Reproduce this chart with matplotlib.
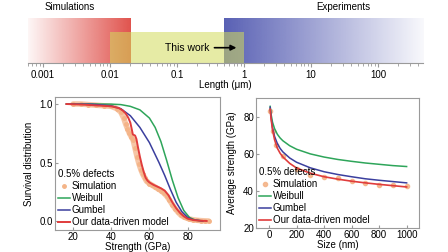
import numpy as np
import matplotlib
matplotlib.use('Agg')
import matplotlib.pyplot as plt
from matplotlib.colors import to_rgb

plt.rcParams['font.family'] = ['Liberation Sans', 'DejaVu Sans']
plt.rcParams['font.size'] = 7

# top panel: length scales (um)
len_lim = [0.0006, 470]
sim_range = [0.0006, 0.02]
exp_range = [0.5, 470]
work_range = [0.01, 1.0]
len_ticks = [0.001, 0.01, 0.1, 1, 10, 100]
len_labels = ['0.001', '0.01', '0.1', '1', '10', '100']

# bottom left: survival distribution vs strength (GPa)
sim_s = [20, 24, 28, 32, 36, 40, 43, 45, 46.5, 47.5, 48.5, 49.5, 50.5, 51.5, 52.5, 53.5,
         54.5, 55.5, 56.5, 57.5, 58.5, 60, 61.5, 63, 64.5, 66, 67.5, 69, 70.5, 72, 73.5,
         75, 76.5, 78, 79.5, 81, 83, 85, 87, 89, 91]
sim_p = [1.0, 1.0, 0.995, 0.99, 0.985, 0.98, 0.96, 0.93, 0.88, 0.83, 0.79, 0.75, 0.72,
         0.69, 0.62, 0.55, 0.49, 0.44, 0.40, 0.37, 0.34, 0.32, 0.305, 0.29, 0.275, 0.26,
         0.24, 0.215, 0.18, 0.14, 0.105, 0.075, 0.05, 0.035, 0.025, 0.017, 0.01, 0.006,
         0.003, 0.001, 0.0]
weib_s = [16.5, 30, 40, 45, 50, 55, 60, 63, 66, 69, 72, 75, 78, 81, 84, 88]
weib_p = [1.0, 1.0, 0.999, 0.995, 0.98, 0.95, 0.88, 0.80, 0.68, 0.52, 0.35, 0.20, 0.09,
          0.03, 0.008, 0.0]
gumb_s = [16.5, 30, 40, 45, 50, 55, 60, 65, 68, 71, 74, 77, 80, 83, 88]
gumb_p = [1.0, 0.998, 0.985, 0.96, 0.90, 0.80, 0.67, 0.50, 0.39, 0.27, 0.16, 0.08, 0.03,
          0.01, 0.0]
model_s = [16.5, 25, 35, 40, 44, 46, 47.5, 49, 50, 50.8, 51.3, 52.5, 53.2, 54, 55, 56, 57,
           58, 59, 60, 62, 64, 66, 68, 70, 72, 74, 76, 78, 80, 83, 86, 90]
model_p = [1.0, 0.995, 0.985, 0.98, 0.965, 0.945, 0.92, 0.88, 0.84, 0.78, 0.74, 0.73, 0.70,
           0.63, 0.55, 0.48, 0.42, 0.37, 0.345, 0.33, 0.31, 0.295, 0.28, 0.26, 0.22, 0.16,
           0.11, 0.07, 0.04, 0.02, 0.008, 0.003, 0.0]

# bottom right: average strength (GPa) vs size (nm)
size_sim = [10, 30, 50, 100, 200, 300, 400, 500, 600, 700, 800, 900, 1000]
str_sim = [83, 72, 64.7, 58.7, 51.7, 48.8, 47.5, 46.9, 45.1, 44.2, 43.3, 43.3, 42.4]
size_fit = [8, 15, 25, 40, 60, 80, 100, 150, 200, 300, 400, 500, 600, 700, 800, 900, 1000]
str_weib = [85.5, 81.1, 77.0, 73.5, 70.5, 68.5, 67.0, 64.3, 62.4, 59.9, 58.2, 56.9, 55.9,
            55.0, 54.3, 53.6, 53.1]
str_gumb = [85.0, 79.4, 73.9, 69.3, 65.5, 62.9, 61.0, 57.7, 55.4, 52.4, 50.3, 48.8, 47.6,
            46.5, 45.7, 45.0, 44.3]
str_model = [84.0, 78.5, 73.0, 67.5, 63.0, 60.3, 58.3, 54.8, 52.3, 49.5, 47.6, 46.3, 45.2,
             44.3, 43.5, 42.8, 42.1]

c_sim = '#f4b488'
c_weib = '#2ea55a'
c_gumb = '#3b3f9e'
c_model = '#e03c3c'
c_spine = '#9a9a9a'

fig = plt.figure(figsize=(4.48, 2.52), dpi=100)

# ---- top: length scale bar
axt = fig.add_axes([28 / 448, 1 - 63 / 252, 395 / 448, 45 / 252])
axt.set_xscale('log')
axt.set_autoscale_on(False)
axt.set_xlim(len_lim)
axt.set_ylim(0, 1)
lo, hi = np.log10(len_lim)


def frac(v):
    return (np.log10(v) - lo) / (hi - lo)


def gradient(rng, rgb, a0, a1, top):
    img = np.zeros((2, 256, 4))
    img[..., :3] = to_rgb(rgb)
    img[..., 3] = np.linspace(a0, a1, 256)
    axt.imshow(img, extent=[frac(rng[0]), frac(rng[1]), 0, top], transform=axt.transAxes,
               aspect='auto', interpolation='bilinear', zorder=1)


gradient(sim_range, '#e0504a', 0.05, 0.98, 1.0)
gradient(exp_range, '#5058b0', 0.95, 0.04, 0.98)
axt.axvspan(work_range[0], work_range[1], 0, 0.69, color='#d2db5b', alpha=0.55, lw=0, zorder=2)
axt.annotate('', xy=(0.85, 0.34), xytext=(0.33, 0.34),
             arrowprops=dict(arrowstyle='-|>', color='black', lw=1.2, mutation_scale=8), zorder=3)
axt.text(0.14, 0.34, 'This work', ha='center', va='center', fontsize=7.5, zorder=3)

for s in ['top', 'left', 'right']:
    axt.spines[s].set_visible(False)
axt.spines['bottom'].set_color(c_spine)
axt.set_yticks([])
axt.set_xticks(len_ticks)
axt.set_xticklabels(len_labels)
axt.tick_params(axis='x', which='major', direction='out', length=3, color=c_spine, pad=2)
axt.tick_params(axis='x', which='minor', direction='out', length=2, color=c_spine)
axt.set_xlabel('Length (μm)', labelpad=0)
fig.text(70 / 448, 1 - 7 / 252, 'Simulations', ha='center', va='center')
fig.text(343 / 448, 1 - 7 / 252, 'Experiments', ha='center', va='center')


def style(ax):
    for s in ax.spines.values():
        s.set_color(c_spine)
    ax.tick_params(direction='in', length=2.5, color=c_spine, pad=1.5)


leg_kw = dict(title='0.5% defects', loc='lower left', bbox_to_anchor=(0.0, 0.0),
              frameon=False, handlelength=1.2, handletextpad=0.2, labelspacing=0.2,
              borderpad=0.15, borderaxespad=0.15, alignment='left', fontsize=7,
              title_fontsize=7)

# ---- bottom left: survival distribution
ax1 = fig.add_axes([55 / 448, 1 - 230 / 252, 165 / 448, 133 / 252])
ax1.plot(sim_s, sim_p, color=c_sim, lw=4, alpha=0.75, solid_capstyle='round')
ax1.plot(sim_s, sim_p, 'o', color=c_sim, ms=2.5, label='Simulation')
ax1.plot(weib_s, weib_p, color=c_weib, lw=1.1, label='Weibull')
ax1.plot(gumb_s, gumb_p, color=c_gumb, lw=1.1, label='Gumbel')
ax1.plot(model_s, model_p, color=c_model, lw=1.4, label='Our data-driven model')
ax1.set_xlim(10.5, 97)
ax1.set_ylim(-0.077, 1.06)
ax1.set_xticks([20, 40, 60, 80])
ax1.set_yticks([0.0, 0.5, 1.0])
ax1.set_yticklabels(['0.0', '0.5', '1.0'])
ax1.set_xlabel('Strength (GPa)', labelpad=0)
ax1.set_ylabel('Survival distribution', labelpad=4)
style(ax1)
ax1.legend(**leg_kw)

# ---- bottom right: average strength vs size
ax2 = fig.add_axes([256 / 448, 1 - 228 / 252, 163 / 448, 130 / 252])
ax2.plot(size_sim, str_sim, 'o', color=c_sim, ms=3, alpha=0.9, label='Simulation')
ax2.plot(size_fit, str_weib, color=c_weib, lw=1.1, label='Weibull')
ax2.plot(size_fit, str_gumb, color=c_gumb, lw=1.1, label='Gumbel')
ax2.plot(size_fit, str_model, color=c_model, lw=1.2, label='Our data-driven model')
ax2.set_xlim(-95, 1090)
ax2.set_ylim(20, 90)
ax2.set_xticks([0, 200, 400, 600, 800, 1000])
ax2.set_yticks([20, 40, 60, 80])
ax2.set_xlabel('Size (nm)', labelpad=0)
ax2.set_ylabel('Average strength (GPa)', labelpad=4)
style(ax2)
ax2.legend(**leg_kw)

fig.savefig('out.png', dpi=100)
